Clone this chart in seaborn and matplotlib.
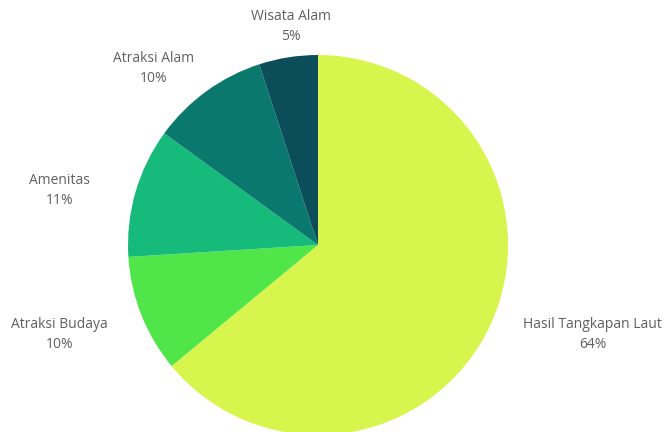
import numpy as np
import seaborn as sns
import matplotlib.pyplot as plt

sns.set_theme(style="white")
plt.rcParams["font.family"] = ["Open Sans", "DejaVu Sans"]

# data -------------------------------------------------------------------------
kategori = ["Hasil Tangkapan Laut", "Atraksi Budaya", "Amenitas",
            "Atraksi Alam", "Wisata Alam"]
persen = [64, 10, 11, 10, 5]
warna = ["#d8f54d", "#50e64a", "#16ba7b", "#0a786c", "#0b4e5a"]

# label placement (radius units, angle in degrees) -----------------------------
label_dist = [1.52, 1.44, 1.39, 1.27, 1.16]
label_ang = [-18, 199, 168, 133, 97]

fig = plt.figure(figsize=(6.65, 4.32), dpi=100)
ax = fig.add_axes([128 / 665, (432 - 245 - 190) / 432, 380 / 665, 380 / 432])

wedges, _ = ax.pie(persen, colors=sns.color_palette(warna), startangle=90,
                   counterclock=False, radius=1,
                   wedgeprops=dict(linewidth=0))
ax.set_xlim(-1, 1)
ax.set_ylim(-1, 1)
ax.set_aspect("equal")
ax.axis("off")

for nama, p, d, a in zip(kategori, persen, label_dist, label_ang):
    t = np.deg2rad(a)
    ax.text(d * np.cos(t), d * np.sin(t), f"{nama}\n{p}%",
            ha="center", va="center", fontsize=10, color="#606060",
            linespacing=1.45, clip_on=False)

fig.savefig("out.png", dpi=100, facecolor="white")
